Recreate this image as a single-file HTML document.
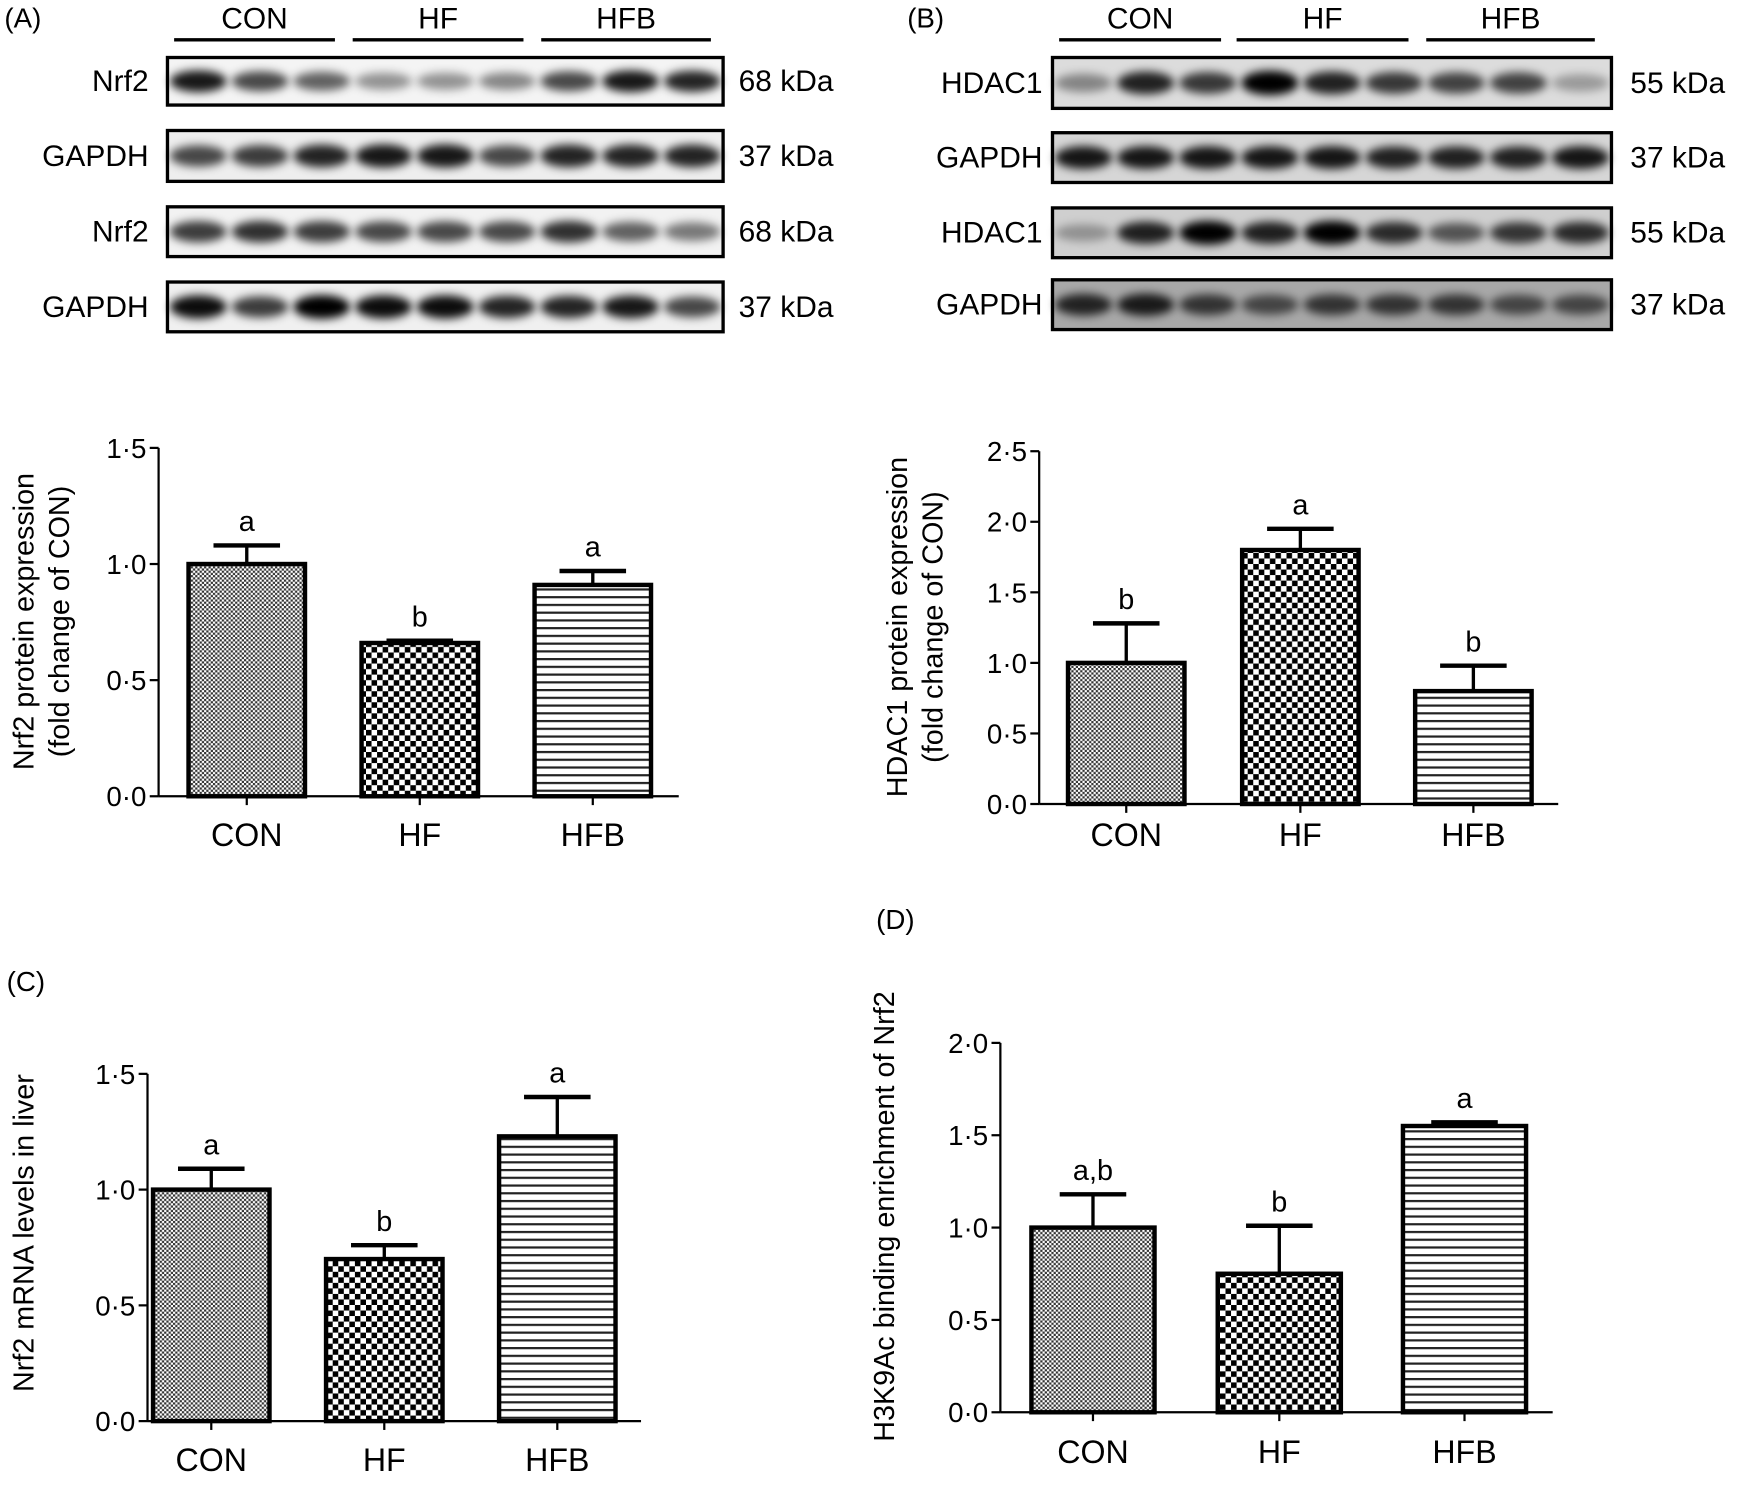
<!DOCTYPE html>
<html><head><meta charset="utf-8"><style>
html,body{margin:0;padding:0;background:#fff;}
svg{display:block;}
text{font-family:"Liberation Sans",sans-serif;fill:#000;}
</style></head><body>
<svg id="fig" width="1739" height="1493" viewBox="0 0 1568 1350" preserveAspectRatio="none" xmlns="http://www.w3.org/2000/svg">
<defs>
<pattern id="pCon" width="4" height="4" patternUnits="userSpaceOnUse"><rect width="4" height="4" fill="#fff"/><rect width="2" height="2" fill="#333"/><rect x="2" y="2" width="2" height="2" fill="#333"/></pattern>
<pattern id="pHf" width="10" height="10" patternUnits="userSpaceOnUse"><rect width="10" height="10" fill="#fff"/><rect width="5" height="5" fill="#000"/><rect x="5" y="5" width="5" height="5" fill="#000"/></pattern>
<pattern id="pHfb" width="8" height="7" patternUnits="userSpaceOnUse"><rect width="8" height="7" fill="#fff"/><rect y="0" width="8" height="2" fill="#222"/></pattern>
<filter id="blur" x="-20%" y="-50%" width="140%" height="200%"><feGaussianBlur stdDeviation="4"/></filter>
</defs>
<g id="root"></g>
</svg>
<script>
// ---- chart data ----
const categories = ["CON","HF","HFB"];
const valsA = [1.0, 0.66, 0.91];
const errA = [0.08, 0.01, 0.06];
const letA = ["a","b","a"];
const ticksA = ["0·0","0·5","1·0","1·5"];
const valsB = [1.0, 1.8, 0.8];
const errB = [0.28, 0.15, 0.18];
const letB = ["b","a","b"];
const ticksB = ["0·0","0·5","1·0","1·5","2·0","2·5"];
const valsC = [1.0, 0.7, 1.23];
const errC = [0.09, 0.06, 0.17];
const letC = ["a","b","a"];
const ticksC = ["0·0","0·5","1·0","1·5"];
const valsD = [1.0, 0.75, 1.55];
const errD = [0.18, 0.26, 0.02];
const letD = ["a,b","b","a"];
const ticksD = ["0·0","0·5","1·0","1·5","2·0"];
// band intensities (0-1) per lane
const blotA = [[0.9,0.7,0.6,0.4,0.4,0.45,0.7,0.9,0.85],[0.7,0.75,0.85,0.9,0.9,0.7,0.85,0.85,0.85],[0.75,0.8,0.75,0.7,0.7,0.7,0.8,0.6,0.5],[0.95,0.75,1,0.95,0.95,0.85,0.85,0.9,0.7]];
const blotB = [[0.4,0.85,0.75,1,0.85,0.75,0.7,0.7,0.3],[0.9,0.9,0.9,0.9,0.9,0.85,0.85,0.85,0.9],[0.3,0.85,1,0.85,1,0.8,0.6,0.75,0.8],[0.8,0.85,0.7,0.6,0.7,0.7,0.7,0.6,0.6]];

const NS="http://www.w3.org/2000/svg";
const root=document.getElementById('root');
function el(tag,attrs,parent){const e=document.createElementNS(NS,tag);for(const k in attrs)e.setAttribute(k,attrs[k]);(parent||root).appendChild(e);return e;}
function txt(x,y,s,size,anchor,parent,rot){const t=el('text',{x:x,y:y,'font-size':size,'text-anchor':anchor||'middle'},parent);if(rot)t.setAttribute('transform',`rotate(-90 ${x} ${y})`);t.textContent=s;return t;}

function chart(name,cfg){
  const g=el('g',{});
  
  
  const {ax,y0,ymax,ytop,x1,ticks,vals,errs,lets,barX,bw,labY}=cfg;
  const sy=v=>y0-(y0-ytop)*v/ymax;
  const yaxis=el('line',{x1:ax,y1:ytop,x2:ax,y2:y0,stroke:'#000','stroke-width':2},g);
  
  
  const xaxis=el('line',{x1:ax,y1:y0,x2:x1,y2:y0,stroke:'#000','stroke-width':2},g);
  
  
  ticks.forEach((t,i)=>{const v=ymax*i/(ticks.length-1);const y=sy(v);
    el('line',{x1:ax-8,y1:y,x2:ax,y2:y,stroke:'#000','stroke-width':2},g);
    const tl=txt(ax-11,y+9,t,25,'end',g);
    
    });
  const pats=['pCon','pHf','pHfb'];
  categories.forEach((c,i)=>{const x=barX[i];const yt=sy(vals[i]);const ye=sy(vals[i]+errs[i]);const cx=x+bw/2;
    const b=el('rect',{x:x,y:yt,width:bw,height:y0-yt,fill:`url(#${pats[i]})`,stroke:'#000','stroke-width':4},g);
    
    
    el('line',{x1:cx,y1:yt,x2:cx,y2:ye,stroke:'#000','stroke-width':3},g);
    const cap=el('line',{x1:cx-30,y1:ye,x2:cx+30,y2:ye,stroke:'#000','stroke-width':4},g);
    
    
    const l=txt(cx,ye-13,lets[i],26,'middle',g);
    
    
    el('line',{x1:cx,y1:y0,x2:cx,y2:y0+8,stroke:'#000','stroke-width':2},g);
    const xl=txt(cx,labY,c,29,'middle',g);
    
    });
  cfg.ylab.forEach(([x,y,s])=>{const t=txt(x,y,s,26,'middle',g,true);
    
    });
}
chart('chart-a',{ax:143,y0:720,ytop:405,ymax:1.5,x1:612,ticks:ticksA,vals:valsA,errs:errA,lets:letA,barX:[170,326,482],bw:105,labY:765,ylab:[[30,562,'Nrf2 protein expression'],[62,562,'(fold change of CON)']]});
chart('chart-b',{ax:937,y0:727,ytop:408,ymax:2.5,x1:1405,ticks:ticksB,vals:valsB,errs:errB,lets:letB,barX:[963,1120,1276],bw:105,labY:765,ylab:[[818,567,'HDAC1 protein expression'],[850,567,'(fold change of CON)']]});
chart('chart-c',{ax:133,y0:1285,ytop:971,ymax:1.5,x1:578,ticks:ticksC,vals:valsC,errs:errC,lets:letC,barX:[138,294,450],bw:105,labY:1330,ylab:[[30,1115,'Nrf2 mRNA levels in liver']]});
chart('chart-d',{ax:902,y0:1277,ytop:943,ymax:2.0,x1:1400,ticks:ticksD,vals:valsD,errs:errD,lets:letD,barX:[930,1098,1265],bw:111,labY:1323,ylab:[[806,1100,'H3K9Ac binding enrichment of Nrf2']]});

function blot(name,cfg){
  const g=el('g',{});
  
  
  const {bx,bw,rows,labX,kX,labels,kdas,data,bgs,lines,heads}=cfg;
  heads.forEach((h,i)=>{const [a,b]=lines[i];el('line',{x1:a,y1:36,x2:b,y2:36,stroke:'#000','stroke-width':3},g);
    const t=txt((a+b)/2,26,h,27,'middle',g);
    
    });
  rows.forEach(([y1,y2],r)=>{
    const box=el('rect',{x:bx,y:y1,width:bw,height:y2-y1,fill:bgs[r],stroke:'#000','stroke-width':3},g);
    
    
    const lw=bw/9;const cy=(y1+y2)/2;
    data[r].forEach((v,i)=>{el('ellipse',{cx:bx+lw*(i+0.5),cy:cy,rx:lw*0.46,ry:(y2-y1)*0.2*(0.7+v*0.5),fill:'#000','fill-opacity':v,filter:'url(#blur)'},g);});
    const l=txt(labX,cy+9,labels[r],27,'end',g);
    
    
    const k=txt(kX,cy+9,kdas[r],27,'start',g);
    
    
  });
}
blot('blot-a',{bx:151,bw:501,rows:[[52,95],[118,164],[187,232],[255,300]],labX:134,kX:666,labels:['Nrf2','GAPDH','Nrf2','GAPDH'],kdas:['68 kDa','37 kDa','68 kDa','37 kDa'],data:blotA,bgs:['#f4f4f4','#eeeeee','#f2f2f2','#f0f0f0'],lines:[[157,302],[318,472],[488,641]],heads:categories});
blot('blot-b',{bx:949,bw:504,rows:[[52,98],[120,165],[188,233],[253,298]],labX:940,kX:1470,labels:['HDAC1','GAPDH','HDAC1','GAPDH'],kdas:['55 kDa','37 kDa','55 kDa','37 kDa'],data:blotB,bgs:['#dcdcdc','#d6d6d6','#cfcfcf','#a8a8a8'],lines:[[955,1101],[1115,1270],[1286,1438]],heads:categories});
[['(A)',4,25],['(B)',818,25],['(C)',6,896],['(D)',790,840]].forEach(([s,x,y])=>{const t=txt(x,y,s,25,'start');
  
  });
</script>
</body></html>
